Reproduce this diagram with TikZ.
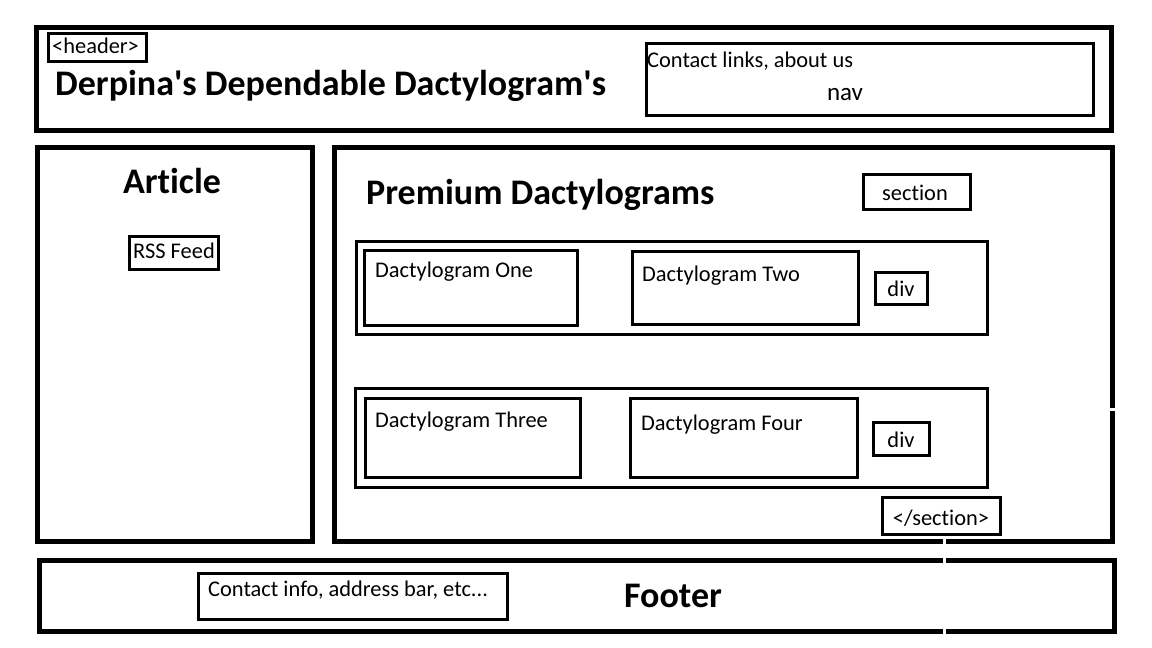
\documentclass[tikz,border=0pt]{standalone}
\usepackage{fontspec}
\setmainfont{Carlito}[Ligatures={NoCommon,NoRequired,NoContextual}]
\newcommand\rectnode[6]{%
  \node[#1, minimum width={#5-#3}, minimum height={#6-#4}] (#2) at ({(#3+#5)/2},{(#4+#6)/2}) {};}
\tikzset{
  thickbox/.style={draw, line width=5pt, inner sep=0pt, outer sep=0pt},
  thinbox/.style={draw, line width=3pt, inner sep=0pt, outer sep=0pt},
  tagbox/.style={draw, line width=2.6pt, inner sep=0pt, outer sep=0pt},
  lbl/.style={inner sep=0pt, font=\fontsize{22.4}{26}\selectfont},
  big/.style={inner sep=0pt, font=\fontsize{36}{42}\selectfont\bfseries},
}
\begin{document}
\begin{tikzpicture}[x=1pt, y=-1pt]
\useasboundingbox[fill=white] (0,0) rectangle (1152,648);
% header
\rectnode{thickbox}{header}{36.5}{27.5}{1111.5}{130.5}
\rectnode{tagbox}{htag}{48.3}{33.3}{146.7}{61.7}
\node[lbl, anchor=base west] (htagt) at (52,53) {<header>};
\node[big, anchor=base west] (title) at (55,95) {Derpina\textquotesingle s Dependable Dactylogram\textquotesingle s};
\rectnode{thinbox}{nav}{646.5}{43.5}{1093.5}{115.5}
\node[lbl, anchor=base west] (navt) at (647,67) {Contact links, about us};
\node[lbl, anchor=base, font=\fontsize{25}{30}\selectfont] (navl) at (845,100) {nav};
% article
\rectnode{thickbox}{article}{37.5}{147.5}{312.5}{541.5}
\node[big, anchor=base] (articlet) at (172,193) {Article};
\rectnode{tagbox}{rss}{129.3}{236.3}{218.7}{269.7}
\node[lbl, anchor=base] (rsst) at (174,258) {RSS Feed};
% section
\rectnode{thickbox}{section}{334.5}{147.5}{1112.5}{541.5}
\node[big, anchor=base west] (premium) at (366,204) {Premium Dactylograms};
\rectnode{thinbox}{stag}{863.5}{174.5}{970.5}{209.5}
\node[lbl, anchor=base] (stagt) at (915,200) {section};
% row 1
\rectnode{thinbox}{row1}{356.5}{241.5}{987.5}{334.5}
\rectnode{thinbox}{d1}{364.5}{250.5}{577.5}{325.5}
\node[lbl, anchor=base west] (d1t) at (375,277) {Dactylogram One};
\rectnode{thinbox}{d2}{632.5}{251.5}{858.5}{324.5}
\node[lbl, anchor=base west] (d2t) at (642,281) {Dactylogram Two};
\rectnode{thinbox}{div1}{875.5}{272.5}{927.5}{304.5}
\node[lbl, anchor=base] (div1t) at (901,296) {div};
% row 2
\rectnode{thinbox}{row2}{355.5}{388.5}{987.5}{487.5}
\rectnode{thinbox}{d3}{365.5}{398.5}{580.5}{477.5}
\node[lbl, anchor=base west] (d3t) at (375,427) {Dactylogram Three};
\rectnode{thinbox}{d4}{630.5}{398.5}{857.5}{477.5}
\node[lbl, anchor=base west] (d4t) at (641,430) {Dactylogram Four};
\rectnode{thinbox}{div2}{873.5}{422.5}{929.5}{455.5}
\node[lbl, anchor=base] (div2t) at (901,447) {div};
\rectnode{thinbox}{endsec}{882.5}{497.5}{1000.5}{534.5}
\node[lbl, anchor=base] (endsect) at (941,525) {</section>};
% footer
\rectnode{thickbox}{footer}{39.5}{560.5}{1114.5}{631.5}
\rectnode{thinbox}{contact}{198.5}{573.5}{507.5}{619.5}
\node[lbl, anchor=base west] (contactt) at (208,596) {Contact info, address bar, etc...};
\node[big, anchor=base] (footert) at (673,607) {Footer};
% small gaps in the borders
\draw[white, line width=3pt] (944.5,538) -- (944.5,637);
\draw[white, line width=3pt] (1107,409) -- (1118,409);
\end{tikzpicture}
\end{document}
